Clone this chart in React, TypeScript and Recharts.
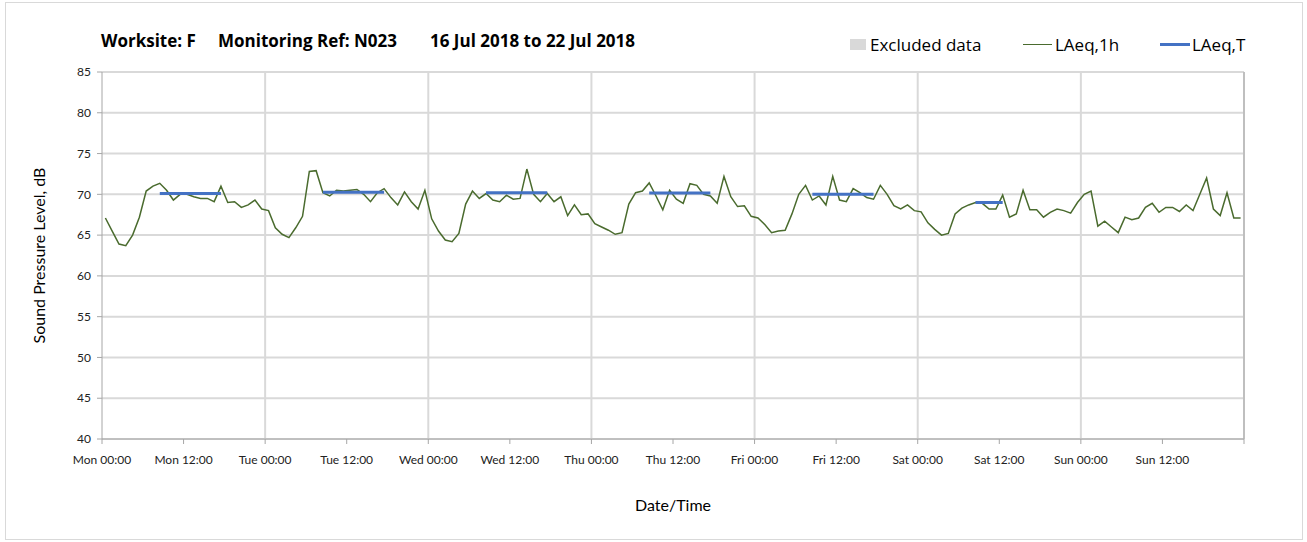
import { ComposedChart, Line, Area, XAxis, YAxis, CartesianGrid, ReferenceLine, Legend } from "recharts";

// hourly LAeq,1h readings per day (00:00 .. 23:00)
const days = ["Mon", "Tue", "Wed", "Thu", "Fri", "Sat", "Sun"];
const mon = [67.1, 65.5, 63.9, 63.7, 65.0, 67.2, 70.4, 71.0, 71.35, 70.5, 69.3, 70.0, 70.0, 69.7, 69.5, 69.5, 69.1, 71.0, 69.0, 69.1, 68.4, 68.7, 69.3, 68.2];
const tue = [68.0, 65.9, 65.1, 64.7, 65.9, 67.3, 72.8, 72.9, 70.2, 69.8, 70.5, 70.4, 70.5, 70.6, 70.0, 69.1, 70.2, 70.7, 69.6, 68.7, 70.3, 69.1, 68.2, 70.5];
const wed = [67.0, 65.5, 64.4, 64.2, 65.2, 68.8, 70.4, 69.5, 70.1, 69.3, 69.1, 69.9, 69.4, 69.5, 73.1, 70.0, 69.1, 70.1, 69.1, 69.7, 67.4, 68.7, 67.5, 67.6];
const thu = [66.4, 66.0, 65.6, 65.1, 65.3, 68.8, 70.2, 70.4, 71.4, 69.8, 68.1, 70.5, 69.4, 68.9, 71.3, 71.1, 70.0, 69.8, 68.9, 72.2, 69.7, 68.5, 68.6, 67.3];
const fri = [67.1, 66.3, 65.3, 65.5, 65.6, 67.6, 70.0, 71.1, 69.3, 69.8, 68.7, 72.2, 69.3, 69.1, 70.7, 70.2, 69.6, 69.4, 71.1, 70.0, 68.6, 68.2, 68.7, 68.0];
const sat = [67.85, 66.5, 65.7, 65.0, 65.2, 67.6, 68.3, 68.7, 69.0, 68.9, 68.2, 68.2, 69.9, 67.2, 67.6, 70.5, 68.1, 68.1, 67.2, 67.8, 68.2, 68.0, 67.7, 69.0];
const sun = [70.0, 70.4, 66.1, 66.7, 66.0, 65.3, 67.2, 66.9, 67.1, 68.4, 68.9, 67.8, 68.4, 68.4, 67.9, 68.7, 68.0, 70.0, 72.0, 68.2, 67.4, 70.2, 67.1, 67.1];
const laeq1h = [mon, tue, wed, thu, fri, sat, sun];

// LAeq,T over the working period of each day
const laeqT = [70.1, 70.25, 70.2, 70.15, 70.0, 69.0, null];
const periodStart = [8, 8, 8, 8, 8, 8, null];
const periodEnd = [17, 17, 17, 17, 17, 12, null];

const yTicks = [40, 45, 50, 55, 60, 65, 70, 75, 80, 85];
const xTicks = [0, 12, 24, 36, 48, 60, 72, 84, 96, 108, 120, 132, 144, 156, 168];
const dayLines = [24, 48, 72, 96, 120, 144, 168];

const data = laeq1h.flatMap((vals, d) =>
  vals.map((v, h) => {
    const s = periodStart[d];
    const e = periodEnd[d];
    const inPeriod = s !== null && e !== null && h >= s && h <= e;
    return {
      t: d * 24 + h + 0.5,
      laeq1h: v,
      laeqT: inPeriod ? laeqT[d] : null,
      excluded: null,
    };
  })
);

const FONT = "Lato, 'Open Sans', sans-serif";
const FONT2 = "'Open Sans', Lato, sans-serif";
const GREEN = "#4a6b2e";
const BLUE = "#4472c4";

const fmtX = (v: number) => {
  if (v >= 168) return "";
  const d = days[Math.floor(v / 24)];
  return `${d} ${v % 24 === 0 ? "00:00" : "12:00"}`;
};

const legendPos: Record<string, number> = { excluded: 850, laeq1h: 1023, laeqT: 1160 };

const renderLegend = (props: any) => {
  const items = props.payload ?? [];
  return (
    <div style={{ position: "relative", width: 1307, height: 24, fontFamily: FONT2, color: "#000" }}>
      <div style={{ position: "absolute", left: 0, top: -4, fontWeight: 700, fontSize: 17, whiteSpace: "nowrap" }}>
        <span style={{ position: "absolute", left: 101 }}>Worksite: F</span>
        <span style={{ position: "absolute", left: 218 }}>Monitoring Ref: N023</span>
        <span style={{ position: "absolute", left: 430 }}>16 Jul 2018 to 22 Jul 2018</span>
      </div>
      {items.map((it: any) => {
        const key = it.dataKey as string;
        const left = legendPos[key] ?? 0;
        const icon =
          key === "excluded" ? (
            <span style={{ display: "inline-block", width: 16, height: 11, background: "#d9d9d9", marginRight: 4 }} />
          ) : (
            <span
              style={{
                display: "inline-block",
                width: key === "laeqT" ? 30 : 29,
                height: key === "laeqT" ? 3 : 1.5,
                background: key === "laeqT" ? BLUE : GREEN,
                marginRight: key === "laeqT" ? 2 : 3,
              }}
            />
          );
        return (
          <div key={key} style={{ position: "absolute", left, top: 0, fontSize: 17, whiteSpace: "nowrap", display: "flex", alignItems: "center" }}>
            {icon}
            <span>{it.value}</span>
          </div>
        );
      })}
    </div>
  );
};

const YTitle = (props: any) => {
  const vb = props.viewBox ?? { y: 72, height: 367 };
  const cx = 38;
  const cy = vb.y + vb.height / 2;
  return (
    <text x={cx} y={cy} transform={`rotate(-90 ${cx} ${cy})`} textAnchor="middle" dominantBaseline="central" fontFamily={FONT} fontSize={16} fill="#000">
      Sound Pressure Level, dB
    </text>
  );
};

export default function App() {
  return (
    <div style={{ position: "absolute", left: 0, top: 0, width: 1307, height: 542, background: "#fff" }}>
      <div style={{ position: "absolute", left: 5, top: 2, width: 1296, height: 536, border: "1px solid #d9d9d9" }} />
      <ComposedChart width={1307} height={542} data={data} margin={{ top: 72, right: 63, bottom: 23, left: 0 }}>
        <CartesianGrid vertical={false} stroke="#d9d9d9" strokeWidth={2} />
        {dayLines.map((x) => (
          <ReferenceLine key={x} x={x} stroke={x === 168 ? "#bfbfbf" : "#d9d9d9"} strokeWidth={2} />
        ))}
        <XAxis
          type="number"
          dataKey="t"
          domain={[0, 168]}
          ticks={xTicks}
          tickFormatter={fmtX}
          interval={0}
          height={80}
          tickSize={5}
          tickMargin={11}
          stroke="#a6a6a6"
          tick={{ fill: "#222", fontSize: 12, fontFamily: FONT }}
          label={{ value: "Date/Time", position: "insideBottom", offset: 8, fill: "#000", fontSize: 16, fontFamily: FONT }}
        />
        <YAxis
          domain={[40, 85]}
          ticks={yTicks}
          interval={0}
          width={102}
          tickSize={5}
          tickMargin={6}
          stroke="#a6a6a6"
          allowDataOverflow
          tick={{ fill: "#222", fontSize: 12, fontFamily: FONT }}
          label={{ content: YTitle }}
        />
        <Legend verticalAlign="middle" layout="horizontal" content={renderLegend} wrapperStyle={{ top: 33, left: 0, width: 1307 }} />
        <Area dataKey="excluded" name="Excluded data" fill="#d9d9d9" stroke="none" isAnimationActive={false} legendType="square" />
        <Line dataKey="laeq1h" name="LAeq,1h" stroke={GREEN} strokeWidth={1.5} dot={false} isAnimationActive={false} />
        <Line dataKey="laeqT" name="LAeq,T" stroke={BLUE} strokeWidth={3} dot={false} connectNulls={false} isAnimationActive={false} />
      </ComposedChart>
    </div>
  );
}
